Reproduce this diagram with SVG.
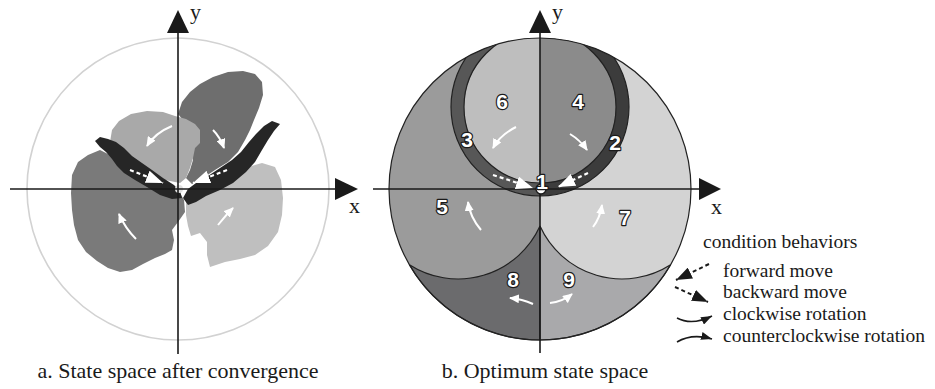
<svg xmlns="http://www.w3.org/2000/svg" width="935" height="389" viewBox="0 0 935 389">
<defs>
<style>
.ax{stroke:#1a1a1a;stroke-width:1.6;fill:none}
.ah{fill:#1a1a1a}
.lbl{font-family:'Liberation Serif','Times New Roman','DejaVu Serif',serif;font-size:22px;fill:#1a1a1a}
.leg{font-family:'Liberation Serif','Times New Roman','DejaVu Serif',serif;font-size:19.5px;fill:#1a1a1a}
.num{font-family:'Liberation Sans',Arial,'DejaVu Sans',sans-serif;font-weight:700;font-size:21px;fill:#fff;stroke:#1a1a1a;stroke-width:2.4;stroke-linejoin:round;paint-order:stroke;text-anchor:middle}
.edge{stroke:#222;stroke-width:1.2;fill:none}
.wa{stroke:#fff;stroke-width:2;fill:none;marker-end:url(#wh)}
.wd{stroke:#fff;stroke-width:2.2;fill:none;stroke-dasharray:4 3;marker-end:url(#whb)}
.bd{stroke:#1a1a1a;stroke-width:2;fill:none;stroke-dasharray:4 3;marker-end:url(#bkb)}
.bc{stroke:#1a1a1a;stroke-width:1.6;fill:none;marker-end:url(#bks)}
</style>
<marker id="wh" markerUnits="userSpaceOnUse" viewBox="0 0 10 10" refX="9" refY="5" markerWidth="10" markerHeight="9" orient="auto" preserveAspectRatio="none"><path d="M0,0 L10,5 L0,10 Z" fill="#fff"/></marker>
<marker id="whb" markerUnits="userSpaceOnUse" viewBox="0 0 10 10" refX="10" refY="5" markerWidth="17" markerHeight="13" orient="auto" preserveAspectRatio="none"><path d="M0,0 L10,5 L0,10 Z" fill="#fff"/></marker>
<marker id="bkb" markerUnits="userSpaceOnUse" viewBox="0 0 10 10" refX="10" refY="5" markerWidth="16" markerHeight="12" orient="auto" preserveAspectRatio="none"><path d="M0,0 L10,5 L0,10 Z" fill="#1a1a1a"/></marker>
<marker id="bks" markerUnits="userSpaceOnUse" viewBox="0 0 10 10" refX="10" refY="5" markerWidth="11" markerHeight="8" orient="auto" preserveAspectRatio="none"><path d="M0,0 L10,5 L0,10 Z" fill="#1a1a1a"/></marker>
<clipPath id="big"><circle cx="540" cy="189" r="151"/></clipPath>
</defs>
<rect width="935" height="389" fill="#fff"/>

<!-- Panel a -->
<g id="panel-a">
<circle cx="178" cy="189" r="151" fill="none" stroke="#d2d2d2" stroke-width="1.6"/>
<path id="blob-dark" fill="#6e6e6e" d="M178,114 L182,102 L190,92 L200,84 L213,77 L228,72 L243,71 L255,74 L262,82 L263,95 L259,108 L254,120 L250,130 L245,140 L238,152 L228,162 L215,170 L203,178 L192,184 L186,178 L190,170 L193,160 L191,152 L195,143 L193,135 L190,127 L183,120 Z"/>
<path id="blob-light" fill="#a9a9a9" d="M110,142 L112,130 L119,121 L131,114 L147,111 L163,112 L175,116 L186,119 L195,124 L200,130 L200,143 L195,148 L193,158 L190,168 L186,178 L180,183 L165,180 L150,170 L135,160 L120,150 Z"/>
<path id="blob-mid" fill="#7a7a7a" d="M100,150 L88,155 L78,162 L72,175 L71,193 L72,210 L74,225 L78,240 L86,252 L97,261 L108,268 L120,272 L132,270 L143,264 L155,258 L165,254 L172,250 L174,240 L172,230 L178,222 L185,212 L184,200 L178,190 L165,185 L140,172 L120,160 Z"/>
<path id="blob-pale" fill="#bfbfbf" d="M186,196 L200,188 L215,181 L232,174 L248,167 L262,163 L275,167 L281,180 L283,198 L282,215 L278,232 L268,246 L255,255 L240,259 L225,262 L210,267 L207,255 L207,242 L200,233 L191,236 L188,226 L186,215 Z"/>
<path id="band-left" fill="#262626" d="M95,141 L100,137 L108,139 L116,142 L124,148 L132,156 L142,163 L152,170 L163,178 L174,185 L180,191 L182,198 L172,199 L160,195 L147,187 L135,180 L124,173 L117,166 L112,159 L106,152 L100,147 Z"/>
<path id="band-right" fill="#262626" d="M280,124 L272,121 L264,126 L256,134 L249,142 L241,152 L232,160 L220,168 L208,176 L196,183 L188,189 L183,198 L188,205 L196,202 L206,196 L220,190 L233,183 L246,172 L255,162 L262,150 L268,140 L274,131 Z"/>
<circle cx="179" cy="189" r="4" fill="#e0e0e0"/>
<line class="ax" x1="178" y1="30" x2="178" y2="354"/>
<line class="ax" x1="10" y1="189" x2="338" y2="189"/>
<path class="ah" d="M167,33 L189,33 L178,10 Z"/>
<path class="ah" d="M335,178 L335,200 L358,189 Z"/>
<text class="lbl" x="190" y="19">y</text>
<text class="lbl" x="349" y="213">x</text>
<text class="lbl" x="178" y="378" text-anchor="middle">a. State space after convergence</text>
</g>

<!-- Panel b -->
<g id="panel-b">
<g clip-path="url(#big)">
<rect id="region-5-bg" x="388" y="37" width="152" height="305" fill="#9b9b9b"/>
<rect id="region-7-bg" x="540" y="37" width="153" height="305" fill="#d3d3d3"/>
</g>
<g id="region-8"><path d="M540,226.1 A90,90 0 0 1 409.4,264.7 A151,151 0 0 0 540,340 Z" class="edge" style="fill:#6b6b6d"/></g>
<g id="region-9"><path d="M540,226.1 A90,90 0 0 0 670.6,264.7 A151,151 0 0 1 540,340 Z" class="edge" style="fill:#a9a9ab"/></g>
<g clip-path="url(#big)">
<g id="region-3"><path d="M540,18 A89,89 0 0 0 540,196 Z" fill="#575757"/></g>
<g id="region-2"><path d="M540,18 A89,89 0 0 1 540,196 Z" fill="#3c3c3c"/></g>
<circle cx="540" cy="107" r="89" class="edge"/>
<g id="region-6"><path d="M540,31 A76,76 0 0 0 540,183 Z" fill="#bebebe"/></g>
<g id="region-4"><path d="M540,31 A76,76 0 0 1 540,183 Z" fill="#8b8b8b"/></g>
<circle cx="540" cy="107" r="76" class="edge"/>
</g>
<circle cx="540" cy="189" r="151" class="edge"/>
<line class="ax" x1="540" y1="30" x2="540" y2="353"/>
<line class="ax" x1="373" y1="189" x2="702" y2="189"/>
<path class="ah" d="M529,33 L551,33 L540,10 Z"/>
<path class="ah" d="M699,178 L699,200 L721,189 Z"/>
<text class="lbl" x="552" y="19">y</text>
<text class="lbl" x="711" y="214">x</text>
<g id="region-1"><circle cx="541" cy="189" r="5" fill="#fff" stroke="#1a1a1a" stroke-width="1.4"/><text class="num" x="542" y="189">1</text></g>
<text class="num" x="502" y="109">6</text>
<text class="num" x="578" y="109">4</text>
<text class="num" x="467" y="147">3</text>
<text class="num" x="615" y="150">2</text>
<text class="num" x="442" y="214">5</text>
<text class="num" x="625" y="225">7</text>
<text class="num" x="513" y="287">8</text>
<text class="num" x="569" y="287">9</text>
<text class="lbl" x="545" y="378" text-anchor="middle">b. Optimum state space</text>
</g>

<!-- Connectors -->
<g id="connectors">
<path class="wa" d="M172,126 Q155,133 147,146"/>
<path class="wa" d="M213,130 Q220,137 224,148"/>
<path class="wd" d="M130,170 L163,183"/>
<path class="wd" d="M227,170 L193,183"/>
<path class="wa" d="M136,239 Q125,228 119,214"/>
<path class="wa" d="M218,225 Q226,215 233,208"/>
<path class="wa" d="M516,127 Q500,135 493,148"/>
<path class="wa" d="M570,134 Q580,140 587,150"/>
<path class="wa" d="M481,230 Q470,217 468,202"/>
<path class="wa" d="M593,227 Q600,218 602,205"/>
<path class="wa" d="M533,304 Q522,299 510,298"/>
<path class="wa" d="M550,303 Q562,302 572,294"/>
<path class="wd" d="M493,175 L533,188"/>
<path class="wd" d="M588,173 L558,187"/>
<path class="bd" d="M709,264 L676,280"/>
<path class="bd" d="M675,287 L708,302"/>
<path class="bc" d="M677,318 Q692,326 712,316"/>
<path class="bc" d="M677,342 Q692,333 712,339"/>
</g>

<g id="legend">
<text class="leg" x="703" y="248">condition behaviors</text>
<text class="leg" x="723" y="277">forward move</text>
<text class="leg" x="723" y="298">backward move</text>
<text class="leg" x="723" y="320">clockwise rotation</text>
<text class="leg" x="723" y="342">counterclockwise rotation</text>
</g>
</svg>
